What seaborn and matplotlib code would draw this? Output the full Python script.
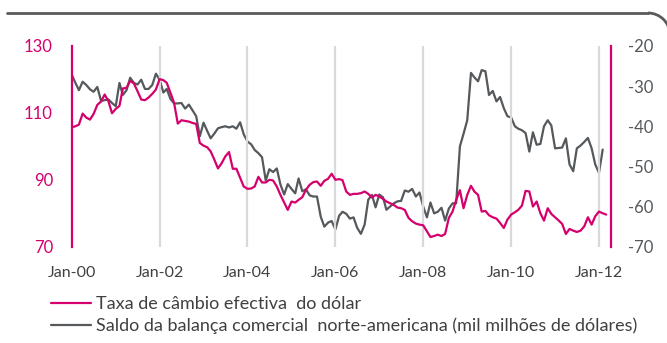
import numpy as np
import pandas as pd
import matplotlib
matplotlib.use("Agg")
import matplotlib.pyplot as plt
import seaborn as sns
from matplotlib.lines import Line2D
from matplotlib.patches import Arc

# Monthly observations, Jan-2000 onwards
taxa_cambio = [
    105.7, 106.0, 106.5, 109.8, 108.6, 108.0, 109.7, 112.4, 113.4, 115.5, 113.5, 109.9,
    111.2, 112.1, 117.3, 117.5, 119.6, 118.8, 116.5, 114.0, 113.8, 114.6, 115.7, 117.0,
    120.1, 119.8, 119.0, 116.0, 113.0, 106.8, 107.8, 107.6, 107.4, 107.0, 106.7, 101.0,
    100.2, 99.7, 98.5, 96.0, 93.4, 95.0, 97.0, 98.3, 93.3, 93.3, 90.6, 88.0,
    87.3, 87.4, 88.0, 90.9, 89.2, 89.2, 90.0, 89.8, 88.0, 85.5, 83.2, 81.0,
    83.5, 83.2, 84.0, 84.8, 87.0, 88.5, 89.3, 89.5, 88.2, 89.7, 90.3, 91.8,
    90.0, 90.2, 89.9, 86.5, 85.5, 85.8, 85.8, 86.0, 86.5, 85.8, 84.7, 85.5,
    85.0, 84.3, 83.5, 83.0, 82.5, 81.7, 81.5, 81.0, 78.6, 77.6, 76.9, 76.6,
    76.4, 74.6, 72.9, 73.2, 73.6, 73.2, 73.8, 78.6, 80.5, 84.0, 86.9, 81.5,
    85.5, 88.2, 86.5, 85.5, 80.5, 80.7, 79.4, 78.8, 78.4, 77.1, 75.6, 78.1,
    79.6, 80.3, 81.0, 82.3, 86.7, 86.5, 82.0, 83.5, 80.0, 77.8, 81.5, 79.8,
    78.8, 77.8, 76.8, 73.8, 75.3, 74.8, 74.4, 74.8, 76.1, 78.8, 76.6, 79.1,
    80.5, 80.0, 79.6,
]

saldo_comercial = [
    -27.1, -29.2, -31.0, -28.9, -29.7, -30.8, -31.4, -30.2, -33.7, -33.5, -33.3, -34.2,
    -35.0, -29.2, -32.2, -31.0, -27.9, -29.2, -29.6, -28.4, -30.7, -30.7, -29.7, -26.9,
    -28.4, -31.6, -30.7, -33.2, -34.3, -34.3, -34.2, -35.6, -34.6, -36.0, -37.5, -42.5,
    -39.1, -41.2, -43.0, -41.8, -40.5, -40.2, -40.0, -40.3, -40.0, -40.6, -39.0, -42.0,
    -43.8, -44.5, -45.9, -46.7, -47.7, -53.5, -50.7, -51.4, -50.5, -54.5, -57.0, -54.4,
    -55.6, -56.7, -53.0, -56.2, -55.7, -57.2, -57.5, -57.5, -62.5, -65.0, -64.0, -63.6,
    -65.7, -62.3, -61.3, -61.8, -63.0, -62.7, -65.3, -66.8, -64.5, -58.3, -57.1, -60.2,
    -57.0, -57.7, -60.8, -60.0, -59.2, -58.7, -58.6, -56.0, -56.3, -55.6, -57.5, -56.5,
    -60.0, -62.7, -59.0, -61.7, -61.3, -60.3, -63.5, -60.5, -59.2, -59.2, -45.0, -41.9,
    -38.5, -26.7, -27.8, -28.8, -26.0, -26.3, -32.2, -31.2, -33.8, -32.7, -35.5, -37.5,
    -37.8, -40.0, -40.6, -41.0, -41.7, -46.3, -41.5, -44.6, -44.4, -40.0, -38.5, -39.8,
    -45.5, -45.4, -45.3, -43.0, -49.5, -51.2, -45.5, -44.8, -43.9, -42.9, -45.5, -49.5,
    -51.6, -45.8,
]

tick_years = [2000, 2002, 2004, 2006, 2008, 2010, 2012]
tick_labels = ["Jan-00", "Jan-02", "Jan-04", "Jan-06", "Jan-08", "Jan-10", "Jan-12"]
left_ticks = [70, 90, 110, 130]
right_ticks = [-70, -60, -50, -40, -30, -20]

legend_labels = [
    "Taxa de câmbio efectiva  do dólar",
    "Saldo da balança comercial  norte-americana (mil milhões de dólares)",
]

PINK = "#D5006D"
GREY = "#55595C"
GRID = "#D9D9D9"
TEXT = "#404040"

sns.set_theme(style="white")
plt.rcParams["font.family"] = ["Lato", "DejaVu Sans"]

months = pd.date_range("2000-01-01", periods=len(taxa_cambio), freq="MS")
df_taxa = pd.DataFrame({"data": months, "valor": taxa_cambio})
df_saldo = pd.DataFrame({"data": months[: len(saldo_comercial)], "valor": saldo_comercial})

W, H = 667, 343
fig = plt.figure(figsize=(W / 100, H / 100), dpi=100)
x0, x1, ytop, ybot = 71.7, 611, 46, 246.7
ax = fig.add_axes([x0 / W, 1 - ybot / H, (x1 - x0) / W, (ybot - ytop) / H])
ax2 = ax.twinx()

tick_dates = [pd.Timestamp(f"{y}-01-01") for y in tick_years]
for d in tick_dates[1:]:
    ax.axvline(d, color=GRID, lw=1.6, zorder=0)

sns.lineplot(data=df_taxa, x="data", y="valor", ax=ax, color=PINK, lw=1.6, zorder=3)
sns.lineplot(data=df_saldo, x="data", y="valor", ax=ax2, color=GREY, lw=1.6, zorder=3)
ax.set_zorder(ax2.get_zorder() + 1)
ax.patch.set_visible(False)

ax.set_xlim(pd.Timestamp("2000-01-01"), pd.Timestamp("2012-04-10"))
ax.set_ylim(70, 130)
ax2.set_ylim(-70, -20)

ax.set_xticks(tick_dates)
ax.set_xticklabels(tick_labels)
ax.set_yticks(left_ticks)
ax.set_yticklabels([str(v) for v in left_ticks])
ax2.set_yticks(right_ticks)
ax2.set_yticklabels([str(v) for v in right_ticks])
for a in (ax, ax2):
    a.set_xlabel("")
    a.set_ylabel("")
    a.grid(False)
    for s in a.spines.values():
        s.set_visible(False)

ax.spines["left"].set_visible(True)
ax.spines["left"].set_color(PINK)
ax.spines["left"].set_linewidth(1.6)
ax2.spines["right"].set_visible(True)
ax2.spines["right"].set_color(PINK)
ax2.spines["right"].set_linewidth(1.6)

ax.tick_params(axis="y", length=0, pad=13.5, labelsize=12, labelcolor=PINK)
ax.tick_params(axis="x", length=0, pad=14, labelsize=11.5, labelcolor=TEXT)
ax2.tick_params(axis="y", length=0, pad=12, labelsize=12, labelcolor=GREY)

handles = [Line2D([], [], color=PINK, lw=1.6), Line2D([], [], color=GREY, lw=1.6)]
fig.legend(handles, legend_labels, loc="upper left",
           bbox_to_anchor=(51 / W, 1 - 296 / H), frameon=False,
           fontsize=13, handlelength=2.2, handletextpad=0.3,
           labelspacing=0.32, borderaxespad=0, borderpad=0,
           labelcolor=TEXT)

# Panel frame: top edge with a rounded top-right corner
fig.add_artist(Line2D([7 / W, 648 / W], [1 - 13 / H, 1 - 13 / H],
                      transform=fig.transFigure, color="#5A5A5A", lw=2))
r = 22
fig.add_artist(Arc((648, H - 35), 2 * r, 2 * r, theta1=0, theta2=90,
                   transform=None, color="#5A5A5A", lw=2))

fig.savefig("out.png", dpi=100)
